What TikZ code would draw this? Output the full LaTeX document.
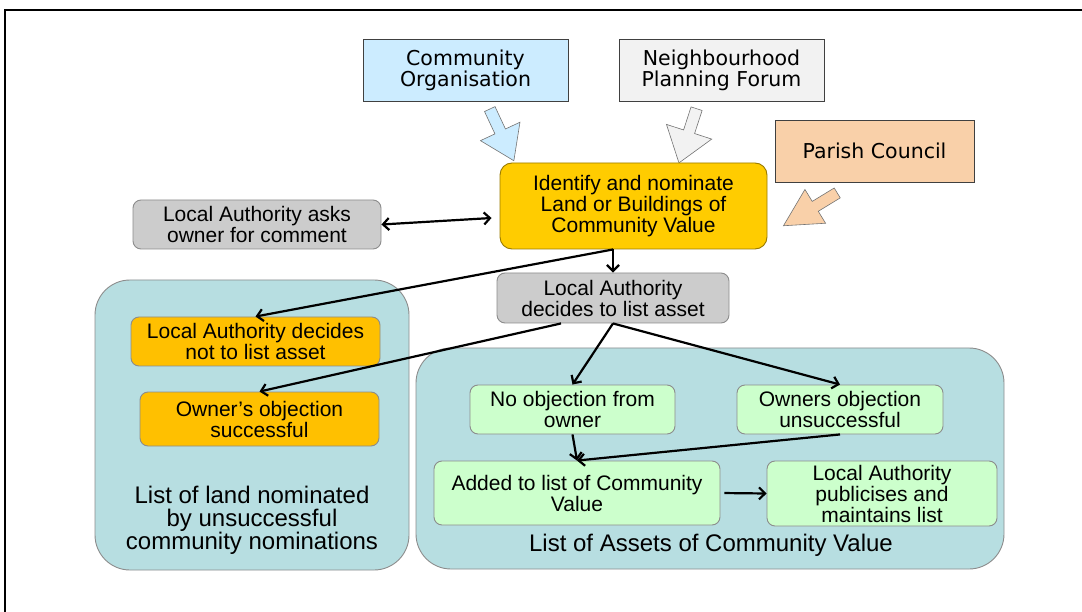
\documentclass[tikz,border=0pt]{standalone}
\usepackage{fontspec}
\setmainfont{Liberation Sans}
\newfontfamily\verdana{DejaVu Sans}
\usetikzlibrary{arrows.meta,shapes.arrows}

\definecolor{orgblue}{HTML}{CCECFF}
\definecolor{forumgrey}{HTML}{F2F2F2}
\definecolor{parishtan}{HTML}{F9D0A9}
\definecolor{nomgold}{HTML}{FFCC00}
\definecolor{lagrey}{HTML}{CCCCCC}
\definecolor{listteal}{HTML}{B7DEE1}
\definecolor{failamber}{HTML}{FFC000}
\definecolor{okgreen}{HTML}{CCFFCC}

\begin{document}
\begin{tikzpicture}[x=1pt, y=-1pt, >={Straight Barb[length=6pt,width=12pt]},
    source/.style={draw=black!75, line width=0.9pt, rectangle, font=\verdana\fontsize{20.5}{21}\selectfont, align=center, inner sep=2pt},
    box/.style={draw=black!45, line width=0.9pt, rectangle, rounded corners=8pt, font=\fontsize{21}{21}\selectfont, align=center, inner sep=2pt},
    listarea/.style={draw=black!45, line width=0.9pt, fill=listteal, rectangle, rounded corners=35pt},
    caption/.style={font=\fontsize{24}{23}\selectfont, align=center},
    feed/.style={single arrow, draw=black!55, line width=0.6pt, inner xsep=0pt, inner ysep=5.5pt, single arrow head indent=0pt},
    link/.style={->, line width=2.2pt}]

  \useasboundingbox (0,0) rectangle (1082,612);
  \draw[line width=1.6pt] (5,612) -- (5,10) -- (1082,10);

  % who can nominate
  \node[source, fill=orgblue, minimum width=205pt, minimum height=62pt] (org) at (465.5,70) {Community\\Organisation};
  \node[source, fill=forumgrey, minimum width=205pt, minimum height=62pt] (forum) at (721.5,70) {Neighbourhood\\Planning Forum};
  \node[source, fill=parishtan, minimum width=199pt, minimum height=62pt] (parish) at (874.5,151) {Parish Council};

  \node[feed, fill=orgblue, rotate=-65, minimum height=57pt, single arrow head extend=16pt, single arrow tip angle=68] (orgfeed) at (500,131) {};
  \node[feed, fill=forumgrey, rotate=-108, minimum height=57pt, single arrow head extend=18pt, single arrow tip angle=72] (forumfeed) at (689,132) {};
  \node[feed, fill=parishtan, rotate=-148.6, minimum height=63pt, single arrow head extend=14pt, single arrow tip angle=56] (parishfeed) at (815,206.5) {};

  % nomination and decision
  \node[box, fill=nomgold, draw=nomgold!60!black, rounded corners=12pt, minimum width=267pt, minimum height=86pt] (ident) at (633.5,206) {Identify and nominate\\Land or Buildings of\\Community Value};
  \node[box, fill=lagrey, minimum width=248pt, minimum height=49pt] (asks) at (257,224.5) {Local Authority asks\\owner for comment};
  \node[box, fill=lagrey, minimum width=232pt, minimum height=50pt] (decide) at (613,298) {Local Authority\\decides to list asset};

  % the two lists
  \node[listarea, minimum width=314pt, minimum height=290pt] (leftlist) at (252,425) {};
  \node[listarea, minimum width=588pt, minimum height=221pt] (rightlist) at (710,458.5) {};
  \node[caption] (leftcap) at (252,520) {List of land nominated\\by unsuccessful\\community nominations};
  \node[caption] (rightcap) at (711,545) {List of Assets of Community Value};

  \node[box, fill=failamber, minimum width=249pt, minimum height=49pt] (notlist) at (255.5,341.5) {Local Authority decides\\not to list asset};
  \node[box, fill=failamber, minimum width=239pt, minimum height=54pt] (objok) at (259.5,419) {Owner’s objection\\successful};

  \node[box, fill=okgreen, minimum width=205pt, minimum height=49pt] (noobj) at (572.5,409.5) {No objection from\\owner};
  \node[box, fill=okgreen, minimum width=206pt, minimum height=49pt] (objfail) at (840,409.5) {Owners objection\\unsuccessful};
  \node[box, fill=okgreen, minimum width=286pt, minimum height=64pt] (added) at (577,493) {Added to list of Community\\Value};
  \node[box, fill=okgreen, minimum width=230pt, minimum height=65pt] (publish) at (882,493.5) {Local Authority\\publicises and\\maintains list};

  \coordinate (split) at (ident.south -| decide.north);

  \draw[link, <->] (asks.east) -- ([xshift=-8pt, yshift=-12pt]ident.west);
  \draw[link] (split) -- (decide.north);
  \draw[link] (split) -- (notlist.north);
  \draw[link] ([xshift=-52pt]decide.south) -- (objok.north);
  \draw[link] (decide.south) -- (noobj.north);
  \draw[link] (decide.south) -- (objfail.north);
  \draw[link] (noobj.south) -- (added.north);
  \draw[link] (objfail.south) -- (added.north);
  \draw[link, shorten <=4pt] (added.east) -- (publish.west);
\end{tikzpicture}
\end{document}
